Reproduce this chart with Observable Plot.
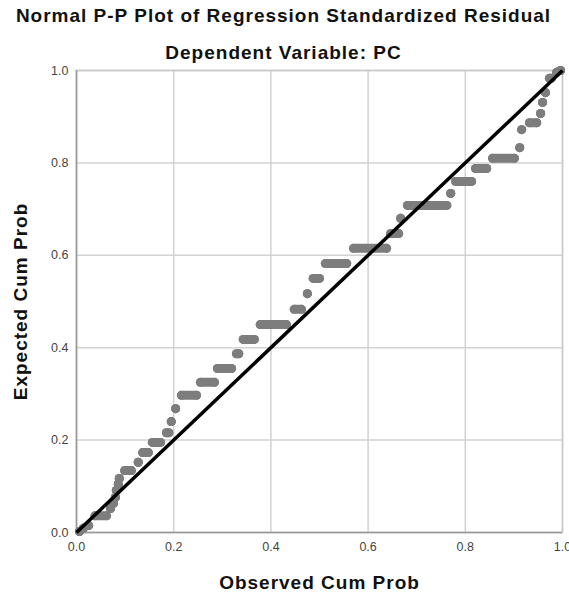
<!DOCTYPE html>
<html><head><meta charset="utf-8">
<script src="https://cdn.jsdelivr.net/npm/d3@7"></script>
<script src="https://cdn.jsdelivr.net/npm/@observablehq/plot@0.6"></script>
<style>body{margin:0;background:#fff} svg{font-family:"Liberation Sans",Arial,sans-serif} g[aria-label="text"] text{letter-spacing:1px}</style>
</head><body><div id="chart"></div>
<script>
// Runs of tied residuals: observed cum prob from start to end at one expected cum prob
const obsStart = [0.006,0.014,0.025,0.038,0.070,0.076,0.080,0.082,0.086,0.088,0.099,0.127,0.136,0.156,0.185,0.195,0.204,0.216,0.255,0.290,0.329,0.343,0.378,0.448,0.475,0.487,0.512,0.570,0.646,0.667,0.681,0.770,0.780,0.821,0.856,0.912,0.916,0.932,0.955,0.959,0.965,0.973,0.988,0.996];
const obsEnd   = [0.006,0.014,0.025,0.062,0.070,0.076,0.080,0.082,0.086,0.088,0.113,0.127,0.148,0.173,0.190,0.195,0.204,0.247,0.284,0.319,0.334,0.366,0.432,0.463,0.475,0.500,0.556,0.638,0.663,0.667,0.762,0.770,0.813,0.844,0.901,0.912,0.916,0.947,0.955,0.959,0.965,0.977,0.988,0.996];
const expected = [0.002,0.009,0.015,0.036,0.052,0.063,0.076,0.091,0.104,0.117,0.134,0.152,0.173,0.195,0.216,0.240,0.268,0.297,0.325,0.355,0.387,0.418,0.450,0.483,0.517,0.550,0.582,0.615,0.647,0.680,0.708,0.734,0.760,0.788,0.810,0.833,0.872,0.887,0.907,0.931,0.952,0.983,0.996,1.000];
const tickValues = [0, 0.2, 0.4, 0.6, 0.8, 1.0];
const refLine = [{x1: 0, y1: 0, x2: 1, y2: 1}];
const titleText = "Normal P-P Plot of Regression Standardized Residual";
const subtitleText = "Dependent Variable: PC";
const xLabel = "Observed Cum Prob";
const yLabel = "Expected Cum Prob";

const runs = obsStart.map((s, i) => ({s, e: obsEnd[i], y: expected[i]}));
const ends = runs.flatMap(r => [{x: r.s, y: r.y}, {x: r.e, y: r.y}]);
const pointColor = "#7d7d7d";
const font = "'Liberation Sans', Arial, sans-serif";
const titleStyle = {fontSize: 19, fontWeight: "bold", fill: "#111", textAnchor: "middle", lineAnchor: "middle"};

const chart = Plot.plot({
  width: 569, height: 596,
  marginTop: 70, marginBottom: 64, marginLeft: 76, marginRight: 7,
  style: {fontFamily: font, background: "#fff"},
  x: {domain: [0, 1]},
  y: {domain: [0, 1]},
  marks: [
    Plot.gridX(tickValues, {stroke: "#d2d2d2", strokeOpacity: 1, strokeWidth: 1.5}),
    Plot.gridY(tickValues, {stroke: "#d2d2d2", strokeOpacity: 1, strokeWidth: 1.5}),
    Plot.frame({stroke: "#c8c8c8", strokeWidth: 1.5}),
    Plot.ruleX([0], {stroke: "#9a9a9a", strokeWidth: 1.5}),
    Plot.ruleY([0], {stroke: "#9a9a9a", strokeWidth: 1.5}),
    Plot.axisX(tickValues, {tickSize: 0, tickPadding: 10, tickFormat: d3.format(".1f"), fontSize: 12.5, fill: "#444", label: null}),
    Plot.axisY(tickValues, {tickSize: 0, tickPadding: 8, tickFormat: d3.format(".1f"), fontSize: 12.5, fill: "#444", label: null}),
    Plot.link(runs, {x1: "s", x2: "e", y1: "y", y2: "y", stroke: pointColor, strokeWidth: 9, strokeLinecap: "round"}),
    Plot.dot(ends, {x: "x", y: "y", r: 4.5, fill: pointColor, stroke: null}),
    Plot.link(refLine, {x1: "x1", y1: "y1", x2: "x2", y2: "y2", stroke: "#000", strokeWidth: 3.5}),
    Plot.text([titleText], {frameAnchor: "top", dy: -55, dx: -36, ...titleStyle}),
    Plot.text([subtitleText], {frameAnchor: "top", dy: -18, dx: -36, ...titleStyle}),
    Plot.text([xLabel], {frameAnchor: "bottom", dy: 50, ...titleStyle}),
    Plot.text([yLabel], {frameAnchor: "left", dx: -56, rotate: -90, ...titleStyle})
  ]
});
document.getElementById("chart").appendChild(chart);
</script>
</body></html>
